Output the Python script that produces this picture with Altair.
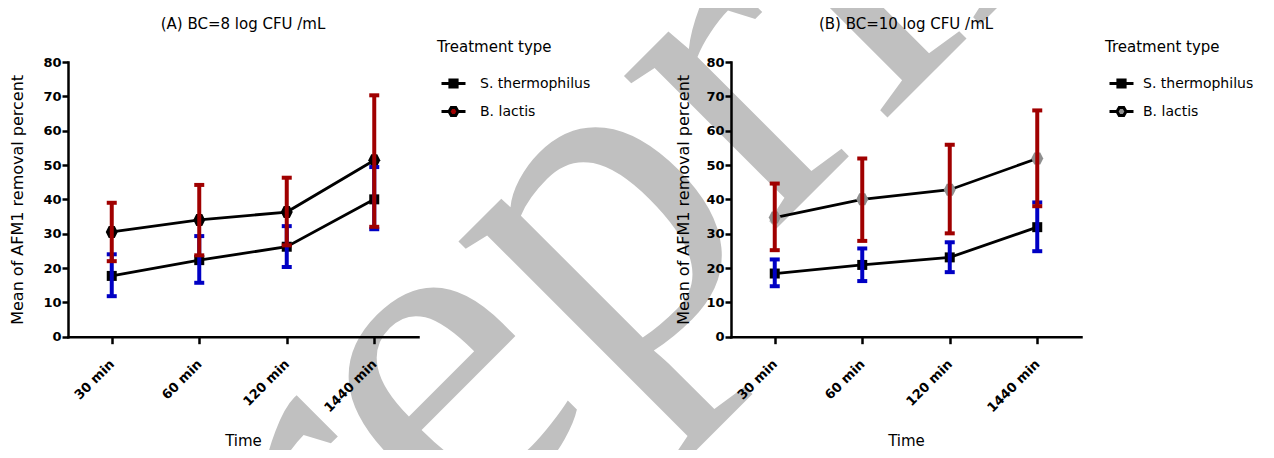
import altair as alt
import pandas as pd

times = ["30 min", "60 min", "120 min", "1440 min"]
types = ["S. thermophilus", "B. lactis"]

# Panel A: BC = 8 log CFU/mL
a_st_mean = [17.7, 22.3, 26.2, 40.0]
a_st_lo = [11.8, 15.7, 20.3, 31.3]
a_st_hi = [24.0, 29.3, 32.2, 49.4]
a_bl_mean = [30.5, 34.0, 36.3, 51.4]
a_bl_lo = [22.0, 23.7, 26.6, 32.0]
a_bl_hi = [39.0, 44.2, 46.3, 70.3]

# Panel B: BC = 10 log CFU/mL
b_st_mean = [18.4, 20.9, 23.1, 31.9]
b_st_lo = [14.7, 16.2, 18.8, 24.9]
b_st_hi = [22.5, 25.7, 27.5, 39.1]
b_bl_mean = [34.7, 40.0, 42.8, 51.9]
b_bl_lo = [25.2, 27.9, 30.1, 38.0]
b_bl_hi = [44.6, 51.9, 55.9, 65.9]

F = "DejaVu Sans"
BLUE = "#0000C4"
RED = "#A00000"
Y_TOP, Y_BOT = 54, 328.7
H = 442
W = 1258

HEX = "M-1,0L-0.5,-1L0.5,-1L1,0L0.5,1L-0.5,1Z"
LEG_SQ = "M-0.8,0H0.8M-0.24,-0.24H0.24V0.24H-0.24Z"
LEG_HEX = "M-0.8,0H-0.3M0.3,0H0.8M-0.3,0L-0.15,-0.26L0.15,-0.26L0.3,0L0.15,0.26L-0.15,0.26Z"


def make_df(st_m, st_lo, st_hi, bl_m, bl_lo, bl_hi):
    rows = []
    for t, m, lo, hi in zip(times, st_m, st_lo, st_hi):
        rows.append({"time": t, "type": types[0], "mean": m, "lo": lo, "hi": hi})
    for t, m, lo, hi in zip(times, bl_m, bl_lo, bl_hi):
        rows.append({"time": t, "type": types[1], "mean": m, "lo": lo, "hi": hi})
    return pd.DataFrame(rows)


def panel(df, x0, title_x, hex_fill, leg_fill, leg_stroke, leg_x, leg_label_offset):
    xaxis = alt.Axis(
        orient="bottom", offset=-(H - Y_BOT), title="Time",
        titleFont=F, titleFontSize=15, titleFontWeight="normal", titleColor="black",
        titleY=109, titleBaseline="alphabetic",
        labelAngle=315, labelAlign="right", labelBaseline="middle",
        labelFont=F, labelFontSize=13, labelFontWeight="bold", labelColor="black",
        labelPadding=18, tickSize=7, tickWidth=2.5, tickColor="black",
        domainColor="black", domainWidth=2.5, domainCap="square", grid=False, zindex=1,
    )
    yaxis = alt.Axis(
        orient="left", offset=-x0, values=list(range(0, 81, 10)),
        title="Mean of AFM1 removal percent",
        titleFont=F, titleFontSize=16, titleFontWeight="normal", titleColor="black",
        titleX=title_x, titleBaseline="middle",
        labelFont=F, labelFontSize=13, labelFontWeight="bold", labelColor="black",
        labelPadding=1, tickSize=6, tickWidth=2.5, tickColor="black",
        domainColor="black", domainWidth=2.5, domainCap="square", grid=False, zindex=1,
    )
    xs = alt.X("time:N", sort=times,
               scale=alt.Scale(type="point", domain=times, range=[x0, x0 + 350]),
               axis=xaxis)
    yscale = alt.Scale(domain=[0, 80], range=[Y_BOT, Y_TOP])

    def Y(field):
        return alt.Y(field, type="quantitative", scale=yscale, axis=yaxis)

    base = alt.Chart(df)
    line = base.mark_line(color="black", strokeWidth=2.8).encode(
        x=xs, y=Y("mean"), detail="type:N")
    pts_s = base.transform_filter(alt.datum.type == types[0]).mark_point(
        shape="square", filled=True, size=100, color="black", opacity=1
    ).encode(x=xs, y=Y("mean"))
    pts_b = base.transform_filter(alt.datum.type == types[1]).mark_point(
        shape=HEX, filled=True, size=144, color=hex_fill, opacity=1
    ).encode(x=xs, y=Y("mean"))

    layers = [line, pts_s, pts_b]
    for t, c in [(types[0], BLUE), (types[1], RED)]:
        sub = base.transform_filter(alt.datum.type == t)
        rule = sub.mark_rule(color=c, strokeWidth=4).encode(
            x=xs, y=Y("lo"), y2="hi:Q")
        caps = sub.transform_fold(["lo", "hi"], as_=["end", "val"]).mark_tick(
            color=c, thickness=4, size=10, orient="horizontal", opacity=1
        ).encode(x=xs, y=Y("val"))
        layers += [rule, caps]

    leg = alt.Legend(
        title="Treatment type", orient="none", legendX=leg_x, legendY=32,
        titleFont=F, titleFontSize=15, titleFontWeight="normal", titleColor="black",
        titlePadding=12, labelFont=F, labelFontSize=14, labelColor="black",
        labelOffset=leg_label_offset, symbolSize=900, symbolStrokeWidth=3,
        symbolOpacity=1, rowPadding=1, padding=0,
    )
    legend_layer = base.transform_filter("false").mark_point(
        filled=True, strokeWidth=3, opacity=1
    ).encode(
        shape=alt.Shape("type:N", scale=alt.Scale(domain=types, range=[LEG_SQ, LEG_HEX]), legend=leg),
        fill=alt.Fill("type:N", scale=alt.Scale(domain=types, range=["black", leg_fill]), legend=leg),
        stroke=alt.Stroke("type:N", scale=alt.Scale(domain=types, range=["black", leg_stroke]), legend=leg),
    )
    layers.append(legend_layer)
    return alt.layer(*layers)


df_a = make_df(a_st_mean, a_st_lo, a_st_hi, a_bl_mean, a_bl_lo, a_bl_hi)
df_b = make_df(b_st_mean, b_st_lo, b_st_hi, b_bl_mean, b_bl_lo, b_bl_hi)

panel_a = panel(df_a, 60, -51, "black", RED, "black", 429, 10)
panel_b = panel(df_b, 723, -48, "#8f8f8f", "#8f8f8f", "black", 1097, 5)

one = alt.Data(values=[{}])
watermark = alt.Chart(one).mark_text(
    text="Preprint", font="Liberation Serif", fontSize=470, angle=315,
    color="#c0c0c0", align="center", baseline="alphabetic", clip=True
).encode(x=alt.value(688), y=alt.value(301))

title_a = alt.Chart(one).mark_text(
    text="(A) BC=8 log CFU /mL", font=F, fontSize=15, color="black", baseline="middle"
).encode(x=alt.value(235), y=alt.value(16))
title_b = alt.Chart(one).mark_text(
    text="(B) BC=10 log CFU /mL", font=F, fontSize=15, color="black", baseline="middle"
).encode(x=alt.value(898), y=alt.value(16))

chart = alt.layer(watermark, panel_a, panel_b, title_a, title_b).resolve_scale(
    x="independent", y="independent", shape="independent", fill="independent",
    stroke="independent"
).resolve_axis(x="independent", y="independent").resolve_legend(
    shape="independent", fill="independent", stroke="independent"
).properties(
    width=W, height=H, padding=0, autosize=alt.AutoSizeParams(type="none")
).configure_view(strokeWidth=0)

chart.save("out.html", embed_options={"renderer": "svg", "actions": False})
